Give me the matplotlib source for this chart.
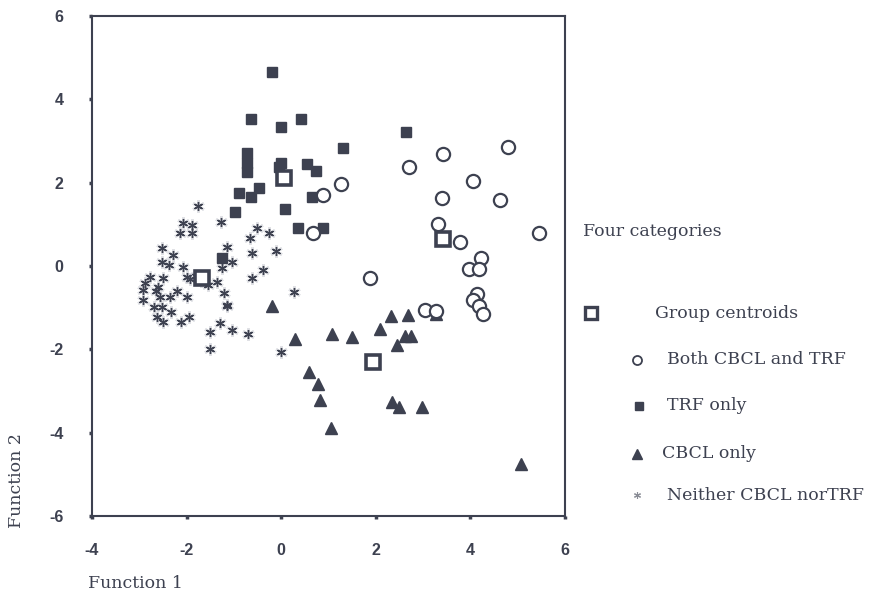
import matplotlib
matplotlib.use("Agg")
import matplotlib.pyplot as plt
from matplotlib.lines import Line2D

# ---- data (Function 1, Function 2) ----
both_x = [0.89, 0.67, 1.27, 1.88, 2.70, 3.41, 3.40, 4.06, 4.63, 4.80, 5.45, 3.31, 3.78,
          4.22, 3.96, 4.19, 4.13, 4.06, 4.19, 4.27, 3.03, 3.27]
both_y = [1.70, 0.78, 1.96, -0.28, 2.38, 2.69, 1.63, 2.04, 1.59, 2.86, 0.80, 1.01, 0.57,
          0.20, -0.08, -0.08, -0.68, -0.82, -0.96, -1.16, -1.06, -1.07]

trf_x = [-0.20, -0.63, -0.01, 0.42, -0.73, -0.73, -0.73, 0.00, -0.05, 0.55, 0.74, -0.89,
         -0.64, -0.48, 0.64, 0.07, -0.97, 0.36, 0.89, -1.26, 1.31, 2.64]
trf_y = [4.66, 3.52, 3.33, 3.52, 2.70, 2.46, 2.26, 2.46, 2.38, 2.45, 2.28, 1.76,
         1.66, 1.86, 1.65, 1.36, 1.30, 0.90, 0.90, 0.18, 2.84, 3.22]

cbcl_x = [-0.20, 2.33, 2.67, 2.09, 2.62, 2.74, 2.44, 1.07, 1.49, 0.29, 0.58, 0.77, 0.81,
          1.05, 2.35, 2.50, 2.98, 5.06, 3.27]
cbcl_y = [-0.95, -1.20, -1.18, -1.51, -1.68, -1.68, -1.90, -1.62, -1.70, -1.75, -2.55, -2.84, -3.22,
          -3.88, -3.26, -3.38, -3.38, -4.75, -1.15]

neither_x = [-1.75, -1.28, -2.08, -1.89, -2.15, -1.89, -2.53, -2.28, -2.53, -2.37, -2.07, -2.00,
             -1.93, -2.77, -2.88, -2.92, -2.93, -2.49, -2.60, -2.56, -2.70, -2.53, -2.63, -2.35,
             -2.00, -2.49, -2.32, -2.11, -1.96, -1.51, -1.29, -1.05, -0.70, -1.51, -0.01, 0.26,
             -0.38, -0.62, -0.62, -0.66, -0.52, -0.25, -0.11, -1.22, -1.15, -1.05, -1.15, -1.26,
             -1.36, -1.14, -1.80, -1.55, -2.20, -2.65, -1.70]
neither_y = [1.44, 1.06, 1.04, 0.98, 0.78, 0.78, 0.42, 0.26, 0.10, 0.02, -0.03, -0.26,
             -0.32, -0.26, -0.42, -0.58, -0.82, -0.30, -0.50, -0.74, -0.98, -0.98, -1.22, -0.74,
             -0.74, -1.34, -1.10, -1.34, -1.22, -1.58, -1.38, -1.54, -1.62, -1.98, -2.06, -0.62,
             -0.10, -0.30, 0.30, 0.66, 0.90, 0.78, 0.37, -0.66, -0.94, 0.10, 0.46, -0.06,
             -0.38, -0.96, -0.25, -0.45, -0.60, -0.60, -0.35]

cent_x = [0.05, 3.43, 1.93, -1.67]
cent_y = [2.10, 0.65, -2.31, -0.30]

x_ticks = [-4, -2, 0, 2, 4, 6]
y_ticks = [-6, -4, -2, 0, 2, 4, 6]

legend_title = "Four categories"
legend_labels = ["Group centroids", "Both CBCL and TRF", "TRF only", "CBCL only",
                 "Neither CBCL norTRF"]

# ---- style ----
DARK = "#3d4150"
SERIF = ["DejaVu Serif"]
SANS = ["Liberation Sans", "DejaVu Sans"]

fig = plt.figure(figsize=(8.74, 5.96), dpi=100)
ax = fig.add_axes([0.1053, 0.1342, 0.5412, 0.839])

star = (6, 2, 0)
ax.plot(neither_x, neither_y, ls="none", marker=star, ms=9, mew=2.0,
        color="#d3d5db", alpha=0.7, zorder=2)
ax.plot(neither_x, neither_y, ls="none", marker=star, ms=6.5, mew=1.0,
        color=DARK, zorder=3)
ax.plot(cbcl_x, cbcl_y, ls="none", marker="^", ms=8.5, color=DARK, mec=DARK, zorder=4)
ax.plot(trf_x, trf_y, ls="none", marker="s", ms=7, color=DARK, mec=DARK, zorder=4)
ax.plot(both_x, both_y, ls="none", marker="o", ms=9.5, mfc="white", mec=DARK, mew=1.6,
        zorder=5)
ax.plot(cent_x, cent_y, ls="none", marker="s", ms=10.5, mfc="white", mec=DARK, mew=2.6,
        zorder=6)

ax.set_xlim(-4, 6)
ax.set_ylim(-6, 6)
ax.set_xticks(x_ticks)
ax.set_yticks(y_ticks)
ax.set_xticklabels([str(t) for t in x_ticks], fontfamily=SANS, fontweight="bold",
                   fontsize=11.5, color=DARK)
ax.set_yticklabels([str(t) for t in y_ticks], fontfamily=SANS, fontweight="bold",
                   fontsize=11.5, color=DARK)
ax.tick_params(axis="both", direction="out", length=2.5, width=2.5, color=DARK)
ax.tick_params(axis="x", pad=17)
ax.tick_params(axis="y", pad=18)
for s in ax.spines.values():
    s.set_color(DARK)
    s.set_linewidth(1.5)

fig.text(88 / 874, 1 - 583 / 596, "Function 1", fontfamily=SERIF, fontsize=12.5,
         color=DARK, va="center", ha="left")
fig.text(17 / 874, 1 - 480 / 596, "Function 2", fontfamily=SERIF, fontsize=12.5,
         color=DARK, va="center", ha="center", rotation=90)

# ---- legend (manual) ----
def fx(px):
    return px / 874

def fy(py):
    return 1 - py / 596

fig.text(fx(583), fy(231), legend_title, fontfamily=SERIF, fontsize=12.5, color=DARK,
         va="center", ha="left")
leg_items = [
    (591, 313, 655, dict(marker="s", ms=9, mfc="white", mec=DARK, mew=2.4)),
    (637, 360, 667, dict(marker="o", ms=6.5, mfc="white", mec=DARK, mew=1.3)),
    (639, 406, 667, dict(marker="s", ms=5.5, color=DARK)),
    (637, 454, 662, dict(marker="^", ms=7, color=DARK)),
    (637, 495, 667, dict(marker=star, ms=5, mew=0.8, color="#8a8d96")),
]
for (mx, my, tx, kw), lab in zip(leg_items, legend_labels):
    fig.add_artist(Line2D([fx(mx)], [fy(my)], transform=fig.transFigure, ls="none", **kw))
    fig.text(fx(tx), fy(my), lab, fontfamily=SERIF, fontsize=12.5, color=DARK,
             va="center", ha="left")

fig.savefig("out.png", dpi=100, facecolor="white")
